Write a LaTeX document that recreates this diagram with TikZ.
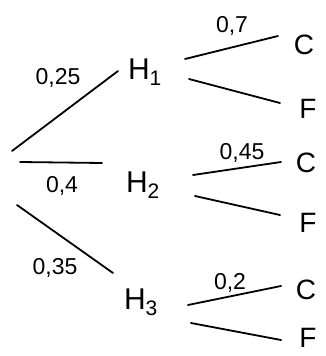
\documentclass[tikz,border=0pt]{standalone}
\usepackage{fontspec}
\setmainfont{Liberation Sans}
\begin{document}
\begin{tikzpicture}[x=1pt,y=-1pt,
  br/.style={line width=1.8pt,line cap=round},
  hnode/.style={font=\fontsize{30}{32}\selectfont,inner sep=0pt},
  leaf/.style={font=\fontsize{28}{30}\selectfont,inner sep=0pt},
  prob/.style={font=\fontsize{23}{25}\selectfont,inner sep=0pt}]
\useasboundingbox (0,0) rectangle (326,356);
% nodes
\node[hnode] (H1) at (145,72) {H\textsubscript{1}};
\node[hnode] (H2) at (143,185) {H\textsubscript{2}};
\node[hnode] (H3) at (141,302) {H\textsubscript{3}};
\node[leaf] (C1) at (304,45) {C};
\node[leaf] (F1) at (308,109) {F};
\node[leaf] (C2) at (306,163) {C};
\node[leaf] (F2) at (308,223) {F};
\node[leaf] (C3) at (306,290) {C};
\node[leaf] (F3) at (308,338) {F};
% line end coordinates
\coordinate (r1) at (12,151);
\coordinate (h1l) at (118,71);
\coordinate (r2) at (20,162);
\coordinate (h2l) at (102,163);
\coordinate (r3) at (17,205);
\coordinate (h3l) at (113,273);
\coordinate (h1c) at (185,59);
\coordinate (c1l) at (278,36);
\coordinate (h1f) at (189,79);
\coordinate (f1l) at (280,103);
\coordinate (h2c) at (193,175);
\coordinate (c2l) at (281,162);
\coordinate (h2f) at (195,196);
\coordinate (f2l) at (280,215);
\coordinate (h3c) at (188,305);
\coordinate (c3l) at (281,286);
\coordinate (h3f) at (191,323);
\coordinate (f3l) at (281,340);
% branches
\draw[br] (r1) -- (h1l);
\draw[br] (r2) -- (h2l);
\draw[br] (r3) -- (h3l);
\draw[br] (h1c) -- (c1l);
\draw[br] (h1f) -- (f1l);
\draw[br] (h2c) -- (c2l);
\draw[br] (h2f) -- (f2l);
\draw[br] (h3c) -- (c3l);
\draw[br] (h3f) -- (f3l);
% probabilities
\node[prob] (p1) at (58,78) {0,25};
\node[prob] (p2) at (62,186) {0,4};
\node[prob] (p3) at (55,268) {0,35};
\node[prob] (p11) at (232,26) {0,7};
\node[prob] (p21) at (242,153) {0,45};
\node[prob] (p31) at (230,283) {0,2};
\end{tikzpicture}
\end{document}
